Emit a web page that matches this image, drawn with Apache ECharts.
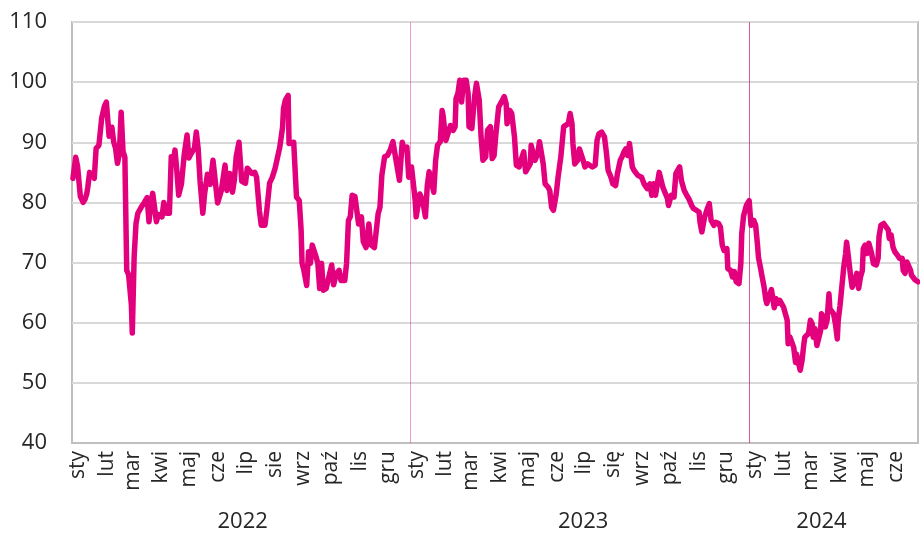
<!DOCTYPE html>
<html>
<head>
<meta charset="utf-8">
<script src="https://cdn.jsdelivr.net/npm/echarts@6/dist/echarts.min.js"></script>
<style>
  html, body { margin: 0; padding: 0; background: #fff; }
  #chart { width: 920px; height: 534px; }
</style>
</head>
<body>
<div id="chart"></div>
<script>
// dni od 2022-01-01 i wartości
const days = [
  1, 4, 6, 9, 12, 14, 16, 17, 19, 22, 24, 26, 29, 32, 35, 37, 39, 40, 43, 45,
  47, 49, 51, 53, 55, 57, 59, 61, 64, 65, 67, 69, 71, 75, 78, 81, 83, 85, 87, 91,
  93, 97, 99, 102, 105, 107, 109, 111, 113, 115, 118, 121, 124, 126, 128, 132, 134, 136, 138, 141,
  143, 146, 149, 152, 157, 161, 165, 167, 170, 173, 175, 177, 180, 183, 187, 189, 194, 197, 199, 202,
  204, 208, 210, 213, 216, 219, 221, 224, 227, 228, 230, 233, 234, 236, 239, 242, 245, 247, 248, 250,
  253, 255, 257, 259, 261, 263, 265, 267, 269, 271, 274, 276, 280, 282, 285, 288, 290, 294, 296, 298,
  300, 302, 305, 309, 312, 314, 317, 320, 322, 326, 330, 332, 334, 337, 340, 343, 346, 348, 350, 353,
  356, 358, 361, 363, 366, 368, 370, 371, 373, 375, 378, 381, 383, 385, 387, 390, 392, 394, 397, 399,
  400, 403, 405, 408, 411, 413, 414, 416, 418, 420, 422, 425, 427, 428, 431, 434, 436, 439, 441, 443,
  446, 448, 451, 453, 455, 457, 460, 463, 466, 468, 469, 472, 474, 477, 479, 482, 484, 487, 489, 491,
  494, 495, 497, 499, 502, 504, 506, 508, 510, 513, 515, 517, 519, 522, 524, 527, 530, 532, 535, 537,
  539, 540, 542, 545, 547, 549, 551, 553, 556, 558, 561, 564, 566, 568, 571, 574, 576, 578, 581, 583,
  586, 588, 591, 593, 595, 597, 599, 601, 602, 604, 606, 608, 610, 612, 614, 617, 620, 623, 625, 627,
  629, 631, 633, 635, 637, 639, 642, 643, 646, 649, 651, 653, 655, 657, 660, 662, 665, 668, 670, 673,
  676, 677, 679, 682, 685, 687, 689, 692, 694, 697, 699, 701, 703, 706, 707, 710, 712, 714, 716, 719,
  721, 722, 724, 727, 730, 731, 732, 735, 737, 739, 740, 742, 744, 746, 748, 749, 751, 754, 757, 759,
  761, 763, 765, 767, 771, 772, 774, 776, 778, 780, 781, 783, 785, 787, 789, 790, 792, 794, 796, 798,
  799, 801, 803, 805, 807, 808, 810, 812, 814, 816, 817, 819, 821, 823, 825, 826, 828, 830, 832, 834,
  835, 837, 839, 841, 842, 844, 846, 848, 850, 852, 853, 855, 857, 859, 860, 862, 864, 867, 869, 870,
  872, 875, 877, 880, 881, 883, 885, 887, 890, 892, 895, 896, 898, 900, 902, 904, 905, 907, 909, 912
];
const values = [
  84, 87.5, 86, 81, 80, 80.5, 81.5, 82.5, 85, 84.5, 84, 89, 89.5, 94, 96, 96.7, 96.5, 91, 92.5, 90,
  89, 86.5, 88, 95, 88.5, 87.5, 68.7, 68, 63, 58.3, 71, 76.5, 78.2, 79.3, 80, 80.8, 76.8, 80, 81.5, 76.8,
  78, 77.6, 80, 78.2, 78.2, 87.6, 86.5, 88.7, 85.3, 81.2, 83.1, 88, 91.2, 87.4, 88, 89, 91.7, 89, 83.7, 78.2,
  81.5, 84.7, 83, 87, 79.9, 82, 86.2, 82, 84.8, 81.7, 83.7, 87.6, 90, 83.5, 83.2, 85.7, 84.8, 85, 84.2, 78.7,
  76.2, 76.2, 78.7, 83.2, 84.2, 85.7, 85.7, 89.2, 92.5, 95.6, 97, 97.8, 89.8, 89.5, 90, 80.9, 80.3, 75.4, 69.9, 68.7,
  66.2, 71.8, 69.9, 72.9, 73.1, 71, 69.9, 65.7, 69.9, 65.4, 65.7, 66, 69.6, 66.3, 68.2, 68.7, 67, 67, 69.9, 77,
  77.6, 81.2, 81, 76.4, 77.6, 73.5, 72.5, 76.4, 73, 72.5, 78.1, 79.2, 84.5, 87.6, 87.8, 88.7, 90.1, 89.8, 86.4, 83.7,
  90, 88.9, 89.2, 84.2, 85.9, 85.9, 80.3, 77.6, 77.6, 81.4, 80.3, 77.6, 82.8, 85.1, 83.7, 81.7, 87, 89.5, 90.1, 95.3,
  94.5, 90.3, 90.3, 92.8, 92, 92.6, 97.3, 98.1, 100.3, 96.7, 100.3, 100.3, 98.1, 92.6, 92.3, 97.6, 99.8, 97, 90.9, 87,
  87.6, 92, 92.6, 87.3, 87.8, 91.4, 95.9, 96.7, 97.6, 96.4, 93.1, 95.3, 94.8, 90.9, 86.2, 85.9, 87, 88.4, 85.1, 84.8,
  86.4, 89.5, 89.2, 87, 88.1, 90.1, 89.8, 86.4, 83.1, 82.6, 82, 79.2, 78.7, 81.4, 84.2, 87.6, 92.6, 92.8, 93.1, 94.8,
  93.1, 89.8, 86.4, 87, 88.9, 88.7, 87, 85.9, 86.4, 86.2, 85.9, 86.2, 90.3, 91.4, 91.7, 90.9, 88.4, 85.3, 84.2, 83.1,
  82.8, 84.8, 87, 87.6, 88.4, 88.9, 87.8, 89.8, 89.5, 85.9, 85.3, 85.3, 84.5, 84.8, 84.2, 83, 82.3, 83.1, 81.2, 83.1,
  81.2, 83.1, 85, 85.3, 82.5, 82.3, 80.6, 79.5, 81.2, 80.9, 84.8, 85, 85.9, 83.6, 82, 81.4, 80.6, 79.5, 79, 78.7,
  78.4, 76.7, 75.1, 77.6, 79, 79.8, 77, 76.2, 76.7, 76.5, 75.9, 72.9, 72, 72.3, 69, 68.7, 67.6, 68.5, 66.8, 66.5,
  69.8, 74.8, 77.8, 79.5, 80.3, 80, 76.2, 77, 76.2, 72.9, 70.9, 69.3, 67.6, 66, 63.8, 63.2, 63.5, 65.5, 62.5, 64,
  63.2, 63.7, 63.5, 62.6, 60.4, 56.5, 57.6, 57.6, 55.9, 53.4, 54.8, 53.4, 52.1, 53.7, 56.5, 57.6, 57.4, 58.2, 60.4, 59.8,
  57.6, 59, 56.2, 55.9, 58.7, 61.5, 60.9, 59.3, 60.4, 64.8, 62.3, 62, 61.5, 59.8, 57.3, 60.4, 62.9, 63.2, 69.3, 71.5,
  73.4, 70.9, 68.2, 65.9, 65.7, 67.1, 68.2, 65.7, 67.6, 68.7, 72.3, 72.9, 71.5, 73.2, 72.9, 71.5, 69.8, 69.6, 70.7, 74.3,
  76.2, 76.5, 76.2, 75.4, 74, 74.6, 72.6, 71.8, 71.2, 70.7, 70.7, 68.7, 68.2, 70.1, 69.8, 68.7, 67.9, 67.6, 67.1, 66.8
];
const monthLabels = [
  'sty', 'lut', 'mar', 'kwi', 'maj', 'cze', 'lip', 'sie', 'wrz', 'paź', 'lis', 'gru',
  'sty', 'lut', 'mar', 'kwi', 'maj', 'cze', 'lip', 'się', 'wrz', 'paź', 'lis', 'gru',
  'sty', 'lut', 'mar', 'kwi', 'maj', 'cze'
];
const years = ['2022', '2023', '2024'];
const yearLabelDates = ['2022-07-04', '2023-07-06', '2024-03-19'];
const yearStarts = ['2023-01-01', '2024-01-01'];

const DAY = 86400000;
const t0 = new Date(2022, 0, 1).getTime();
const seriesData = days.map((d, i) => [t0 + d * DAY, values[i]]);

const font = '"Open Sans", "Noto Sans", sans-serif';
const chart = echarts.init(document.getElementById('chart'));

chart.setOption({
  animation: false,
  grid: {
    left: 72, right: 2, top: 22, bottom: 91,
    show: true, borderColor: '#bfbfbf', borderWidth: 2
  },
  xAxis: {
    type: 'time',
    min: new Date(2022, 0, 1).getTime(),
    max: new Date(2024, 6, 1).getTime(),
    minInterval: 28 * DAY,
    maxInterval: 31 * DAY,
    splitNumber: 30,
    axisLine: {show: true, lineStyle: {color: '#bfbfbf', width: 2}},
    axisTick: {show: false},
    splitLine: {show: false},
    axisLabel: {
      rotate: 90,
      margin: 8,
      fontSize: 21,
      fontFamily: font,
      color: '#262626',
      padding: [12, 0, 0, 0],
      showMaxLabel: false,
      formatter: function (value) {
        const d = new Date(value);
        const idx = (d.getFullYear() - 2022) * 12 + d.getMonth();
        return monthLabels[idx] || '';
      }
    }
  },
  yAxis: {
    type: 'value',
    min: 40, max: 110, interval: 10,
    axisLine: {show: false},
    axisTick: {show: false},
    splitLine: {lineStyle: {color: '#d9d9d9', width: 2}},
    axisLabel: {fontSize: 22, fontFamily: font, color: '#262626', margin: 25}
  },
  series: [{
    type: 'line',
    data: seriesData,
    symbol: 'none',
    lineStyle: {color: '#e3007d', width: 5.5, cap: 'round', join: 'round'},
    markLine: {
      silent: true,
      symbol: 'none',
      label: {show: false},
      data: [
        {xAxis: new Date(yearStarts[0]).getTime(), lineStyle: {color: 'rgba(227,0,125,0.4)', width: 1, type: 'solid'}},
        {xAxis: new Date(yearStarts[1]).getTime(), lineStyle: {color: 'rgba(200,0,110,0.65)', width: 1, type: 'solid'}}
      ]
    }
  }]
});

// etykiety lat pod osią
chart.setOption({
  graphic: years.map((y, i) => ({
    type: 'text',
    x: chart.convertToPixel({xAxisIndex: 0}, new Date(yearLabelDates[i]).getTime()),
    y: 522,
    style: {
      text: y, fontSize: 22, fontFamily: font, fill: '#262626',
      align: 'center', verticalAlign: 'middle'
    }
  }))
});
</script>
</body>
</html>
